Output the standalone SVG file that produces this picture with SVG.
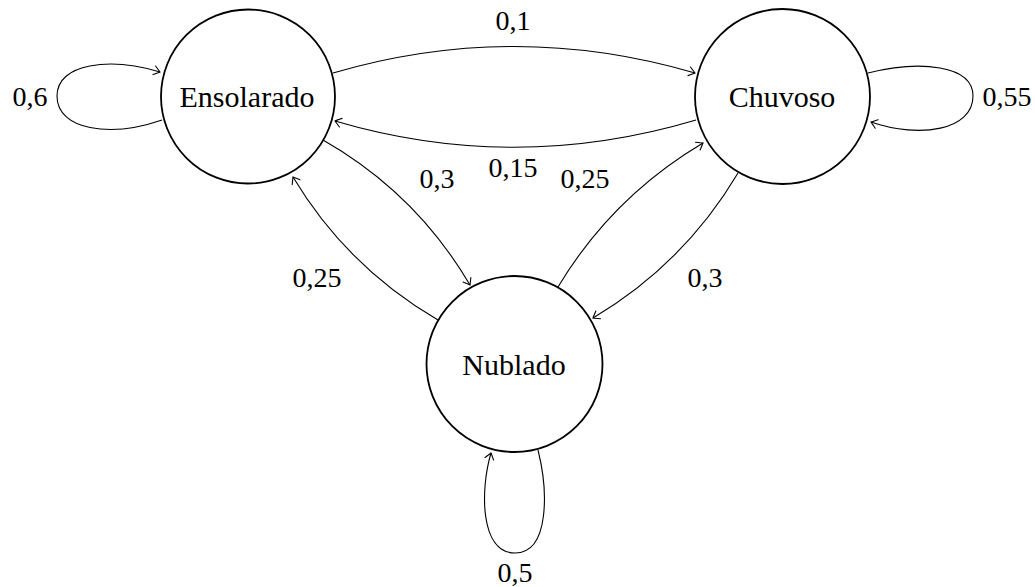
<svg xmlns="http://www.w3.org/2000/svg" width="1035" height="587" viewBox="0 0 1035 587">
<style>
.node{fill:#fff;stroke:#000;stroke-width:1.8}
.edge{fill:none;stroke:#000;stroke-width:1.1;marker-end:url(#arr)}
text{font-family:"Liberation Serif","Times New Roman",serif;font-size:28px;fill:#000}
.n{font-size:30px}
.c{text-anchor:middle}
</style>
<defs>
<marker id="arr" markerUnits="userSpaceOnUse" viewBox="-8 -6 10 12" refX="0" refY="0" markerWidth="10" markerHeight="12" orient="auto" overflow="visible">
<path d="M -6 -4.5 Q -1.5 -1.2 0 0 Q -1.5 1.2 -6 4.5" fill="none" stroke="#000" stroke-width="1.1" stroke-linecap="round"/>
</marker>
</defs>
<rect width="1035" height="587" fill="#fff"/>
<g id="connectors">
<path class="edge" d="M 162 120 C 110 138, 57 130, 57 96 C 57 63, 110 57, 160 72"/>
<path class="edge" d="M 868 73 C 920 60, 973 65, 973 96 C 973 130, 920 139, 871 122"/>
<path class="edge" d="M 538 450 C 548 490, 550 553, 515 553 C 480 553, 480 490, 491 453"/>
<path class="edge" d="M 333 73 Q 514 20 695 73"/>
<path class="edge" d="M 696 120 Q 515 174 335 121"/>
<path class="edge" d="M 323 140 Q 416 193 470 285"/>
<path class="edge" d="M 438 320 Q 347 267 293 177"/>
<path class="edge" d="M 558 287 Q 612 197 703 143"/>
<path class="edge" d="M 738 173 Q 684 264 593 318"/>
</g>
<g id="labels">
<text class="c" x="30" y="106">0,6</text>
<text class="c" x="1007" y="106">0,55</text>
<text class="c" x="515" y="582">0,5</text>
<text class="c" x="513" y="30">0,1</text>
<text class="c" x="513" y="177">0,15</text>
<text class="c" x="437" y="188">0,3</text>
<text class="c" x="585" y="188">0,25</text>
<text class="c" x="317" y="287">0,25</text>
<text class="c" x="705" y="287">0,3</text>
</g>
<g id="ensolarado">
<circle class="node" cx="248" cy="96.5" r="87"/>
<text class="c n" x="247" y="107">Ensolarado</text>
</g>
<g id="chuvoso">
<circle class="node" cx="782.5" cy="96.5" r="87.5"/>
<text class="c n" x="782" y="107">Chuvoso</text>
</g>
<g id="nublado">
<circle class="node" cx="514.5" cy="364" r="88"/>
<text class="c n" x="514" y="375">Nublado</text>
</g>
</svg>
